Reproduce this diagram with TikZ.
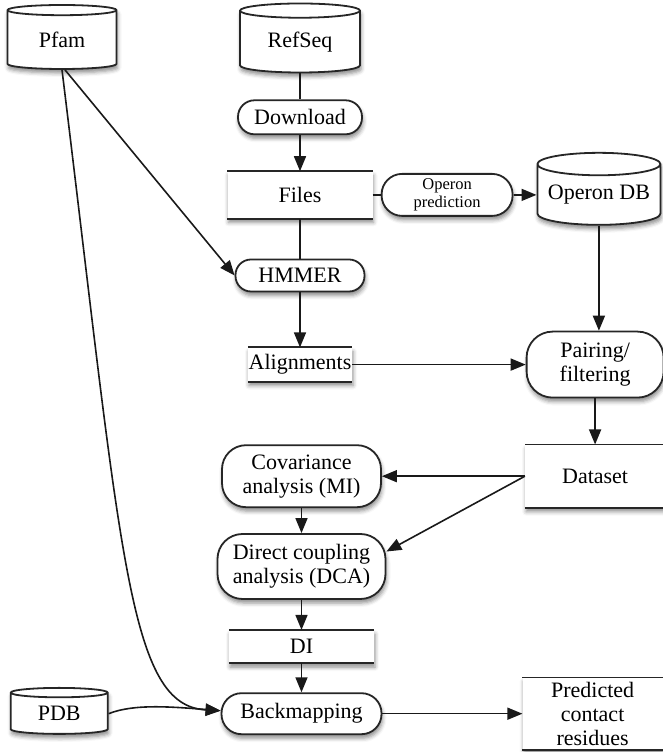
\documentclass[tikz,border=0pt]{standalone}
\usepackage{fontspec}
\setmainfont{Liberation Serif}
\usepackage{tikz}
\usetikzlibrary{shapes.geometric, shapes.misc, positioning, shadows.blur}
\usetikzlibrary{arrows.meta}
\tikzset{>={Triangle[width=12pt,length=15pt]}}

\begin{document}
\begin{tikzpicture}[x=1pt, y=1pt, node distance=20pt,
    soft/.style={blur shadow={shadow xshift=1pt, shadow yshift=-4pt, shadow blur radius=4pt, shadow opacity=45}},
    storeline/.style={-, line width=1.9pt, draw=black!85},
    dbnode/.style={cylinder, shape border rotate=90, aspect=0.22, draw=black!85, line width=1.8pt, fill=white, soft, inner sep=0pt, font=\fontsize{22}{24}\selectfont},
    procnode/.style={rectangle, rounded corners=#1, draw=black!85, line width=1.8pt, fill=white, soft, inner sep=0pt, align=center, font=\fontsize{22}{24}\selectfont},
    storenode/.style={rectangle, fill=white, soft, inner sep=0pt, align=center, font=\fontsize{22}{24}\selectfont,
        append after command={(\tikzlastnode.north west) edge[storeline] (\tikzlastnode.north east)
                              (\tikzlastnode.south west) edge[storeline] (\tikzlastnode.south east)}},
    link/.style={line width=1.6pt, draw=black!90}]

    \useasboundingbox (0,0) rectangle (662,-752);

    %Nodes
    \node[dbnode, minimum width=109pt, minimum height=64pt](pfam) at (62,-40){Pfam};
    \node[dbnode, minimum width=120pt, minimum height=69pt](refseq) at (300,-42){RefSeq};
    \node[procnode=16.5pt, minimum width=124pt, minimum height=34pt](download)[below=26pt of refseq]{Download};
    \node[storenode, minimum width=145pt, minimum height=47pt](files)[below=36pt of download]{Files};
    \node[procnode=20.5pt, minimum width=131pt, minimum height=42pt, font=\fontsize{16.5}{18.5}\selectfont](oppred)[right=8pt of files]{Operon\\prediction};
    \node[dbnode, minimum width=123pt, minimum height=72pt](opdb)[right=23pt of oppred]{Operon DB};
    \node[procnode=15.5pt, minimum width=129pt, minimum height=32pt](hmmer)[below=40pt of files]{HMMER};
    \node[storenode, minimum width=104pt, minimum height=34pt](align)[below=55pt of hmmer]{Alignments};
    \node[procnode=26pt, minimum width=137pt, minimum height=66pt](pairing)[right=173.5pt of align]{Pairing/\\filtering};
    \node[storenode, minimum width=140pt, minimum height=63pt](dataset)[below=46pt of pairing]{Dataset};
    \node[procnode=24pt, minimum width=159pt, minimum height=62pt](cov)[left=143pt of dataset]{Covariance\\analysis (MI)};
    \node[procnode=25pt, minimum width=168pt, minimum height=65pt](dca)[below=25pt of cov]{Direct coupling\\analysis (DCA)};
    \node[storenode, minimum width=145pt, minimum height=33pt](di)[below=30pt of dca]{DI};
    \node[procnode=20pt, minimum width=160pt, minimum height=41pt](back)[below=29pt of di]{Backmapping};
    \node[storenode, minimum width=140pt, minimum height=72pt](pred)[right=140pt of back]{Predicted\\contact\\residues};
    \node[dbnode, minimum width=97pt, minimum height=46pt](pdb)[left=112pt of back]{PDB};

    %Lines
    \draw[link] (refseq.south) -- (download.north);
    \draw[link, ->] (download.south) -- (files.north);
    \draw[link] (files.south) -- (hmmer.north);
    \draw[link] (files.east) -- (oppred.west);
    \draw[link, ->] (oppred.east) -- (opdb.west);
    \draw[link, ->] (hmmer.south) -- (align.north);
    \draw[link, ->] ([xshift=3pt]pfam.south) -- (hmmer.west);
    \draw[link, ->] (opdb.south) -- (opdb.south |- pairing.north);
    \draw[link, ->] (align.east) -- (pairing.west);
    \draw[link, ->] (pairing.south) -- (dataset.north);
    \draw[link, ->] (dataset.west) -- (cov.east);
    \draw[link, ->] (dataset.west) -- (dca.10);
    \draw[link, ->] (cov.south) -- (dca.north);
    \draw[link, ->] (dca.south) -- (di.north);
    \draw[link, ->] (di.south) -- (back.north);
    \draw[link, ->] (pfam.south) .. controls +(60,-490) and +(-92,5) .. ([yshift=3pt]back.west);
    \draw[link, ->] (pdb.east) .. controls +(25,10) and +(-50,4) .. ([yshift=3pt]back.west);
    \draw[link, ->] (back.east) -- (pred.west);

\end{tikzpicture}
\end{document}
